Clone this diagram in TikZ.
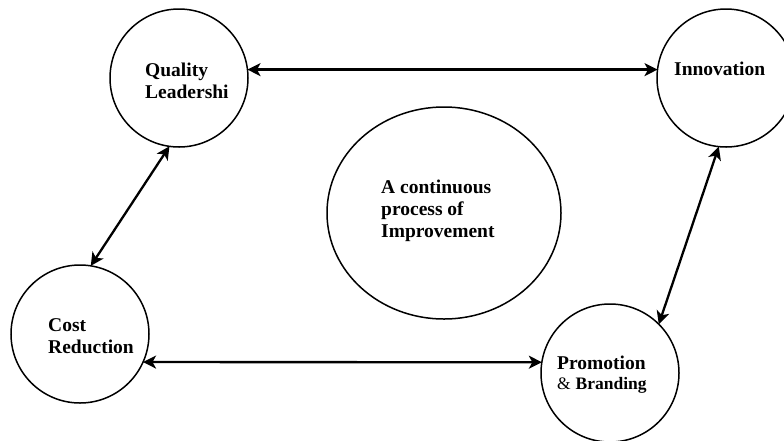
\documentclass[tikz,border=0pt]{standalone}
\usepackage{fontspec}
\setmainfont{Liberation Serif}
\usetikzlibrary{arrows.meta,shapes.geometric}

\tikzset{
  stage/.style={circle, draw, line width=1.5pt, minimum size=138pt, inner sep=0pt, outer sep=0pt},
  core/.style={ellipse, draw, line width=1.5pt, minimum width=234pt, minimum height=212pt, inner sep=0pt, outer sep=0pt},
  % base anchor of a multi-line caption sits on its last line
  caption/.style={anchor=base west, align=left, inner sep=0pt,
    font=\bfseries\fontsize{19.5}{22}\selectfont},
  link/.style={line width=2.3pt, {Stealth[length=13pt,width=13pt,inset=3.5pt]}-{Stealth[length=13pt,width=13pt,inset=3.5pt]}}
}

\begin{document}
\begin{tikzpicture}[x=1pt, y=-1pt]
  \useasboundingbox (0,0) rectangle (784,440);
  \clip (0,0) rectangle (784,440);

  % the four stages and the central cycle
  \node[stage] (quality) at (179,78) {};
  \node[stage] (innov) at (726,78) {};
  \node[stage] (cost) at (80,334) {};
  \node[stage] (promo) at (610,373) {};
  \node[core] (improve) at (444,213) {};

  % labels
  \node[caption] (qtext) at (145,98) {Quality\\Leadershi};
  \node[caption] (itext) at (674,75) {Innovation};
  \node[caption] (ctext) at (48,353) {Cost\\Reduction};
  \node[caption] (ptext) at (557,389) {Promotion\\[-2pt]{\mdseries\fontsize{17.5}{20}\selectfont\&} {\fontsize{17.5}{20}\selectfont Branding}};
  \node[caption] (mtext) at (381,237) {A continuous\\process of\\Improvement};

  % two-way links between the stages
  \draw[link] (quality.7.5) -- (innov.173);
  \draw[link] (cost.-24) -- (promo.171.6);
  \draw[link] (quality.262) -- (cost.81);
  \draw[link] (innov.264) -- (promo.45);
\end{tikzpicture}
\end{document}
